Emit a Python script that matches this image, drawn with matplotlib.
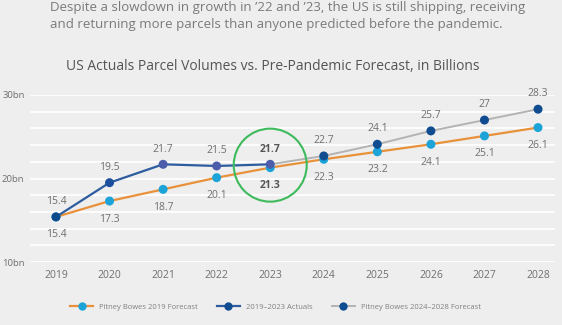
import numpy as np
import matplotlib.pyplot as plt
from matplotlib.patches import Ellipse
from matplotlib.lines import Line2D

plt.rcParams['font.family'] = ['Open Sans', 'DejaVu Sans']

# parcel volumes, billions
years = [2019, 2020, 2021, 2022, 2023, 2024, 2025, 2026, 2027, 2028]
forecast_2019 = [15.4, 17.3, 18.7, 20.1, 21.3, 22.3, 23.2, 24.1, 25.1, 26.1]
actual_years = [2019, 2020, 2021, 2022, 2023]
actuals = [15.4, 19.5, 21.7, 21.5, 21.7]
new_years = [2023, 2024, 2025, 2026, 2027, 2028]
forecast_2024 = [21.7, 22.7, 24.1, 25.7, 27, 28.3]

bg = '#eeeeee'
orange = '#e8913a'
light_blue = '#1ca4d8'
navy = '#0f4c90'
actual_line = '#2d5d9e'
actual_dots = ['#0d4a8c', '#1b4f9d', '#4c5dab', '#4c5dab', '#4c5dab']
gray = '#b3b3b3'
txt = '#6f6f6f'

fig = plt.figure(figsize=(5.62, 3.25), dpi=100, facecolor=bg)
ax = fig.add_axes([30/562, 63/325, 525/562, 167/325], facecolor=bg)

ax.plot(years, forecast_2019, color=orange, lw=1.6, zorder=2)
ax.plot(new_years, forecast_2024, color=gray, lw=1.4, zorder=2)
ax.plot(actual_years, actuals, color=actual_line, lw=1.6, zorder=3)
ax.scatter(years, forecast_2019, s=42, color=light_blue, zorder=4, edgecolors='none')
ax.scatter(new_years[1:], forecast_2024[1:], s=42, color=navy, zorder=4, edgecolors='none')
ax.scatter(actual_years, actuals, s=42, color=actual_dots, zorder=5, edgecolors='none')

fs = 7.5
for x, y in zip(years, forecast_2019):
    bold = x == 2023
    ax.annotate(f'{y:g}', (x, y), xytext=(0, -13), textcoords='offset points',
                ha='center', va='center', fontsize=fs,
                color='#555555' if bold else txt, fontweight='bold' if bold else 'normal')
for x, y in zip(actual_years, actuals):
    bold = x == 2023
    ax.annotate(f'{y:g}', (x, y), xytext=(0, 11), textcoords='offset points',
                ha='center', va='center', fontsize=fs,
                color='#555555' if bold else txt, fontweight='bold' if bold else 'normal')
for x, y in zip(new_years[1:], forecast_2024[1:]):
    ax.annotate(f'{y:g}', (x, y), xytext=(0, 11), textcoords='offset points',
                ha='center', va='center', fontsize=fs, color=txt)

# highlight ring around 2023
ax.add_patch(Ellipse((2023, 21.6), 2 * 36.5 / 53.56, 2 * 36.5 / 8.35,
                     fill=False, edgecolor='#3dbb5c', lw=1.5, zorder=6))

ax.set_xlim(2018.515, 2028.317)
ax.set_ylim(10, 30)
ax.set_yticks([10, 20, 30])
ax.set_yticklabels(['10bn', '20bn', '30bn'])
ax.set_yticks(np.arange(10, 31, 2), minor=True)
ax.set_xticks(years)
ax.grid(True, which='both', axis='y', color='white', lw=1.2, zorder=0)
ax.set_axisbelow(True)
ax.tick_params(axis='both', which='both', length=0, colors=txt, labelsize=fs)
ax.tick_params(axis='y', labelsize=6.8, pad=4)
ax.tick_params(axis='x', pad=6)
for s in ax.spines.values():
    s.set_visible(False)

fig.text(50/562, 0.998, "Despite a slowdown in growth in \u201922 and \u201923, the US is still shipping, receiving\n"
         "and returning more parcels than anyone predicted before the pandemic.",
         ha='left', va='top', fontsize=9.5, color='#7a7a7a', linespacing=1.4)
fig.text(273/562, 0.795, 'US Actuals Parcel Volumes vs. Pre-Pandemic Forecast, in Billions',
         ha='center', va='center', fontsize=10, color='#555555')

handles = [
    Line2D([], [], color=orange, lw=1.6, marker='o', markersize=6,
           markerfacecolor=light_blue, markeredgecolor='none'),
    Line2D([], [], color=actual_line, lw=1.6, marker='o', markersize=6,
           markerfacecolor=navy, markeredgecolor='none'),
    Line2D([], [], color=gray, lw=1.4, marker='o', markersize=6,
           markerfacecolor=navy, markeredgecolor='none'),
]
labels = ['Pitney Bowes 2019 Forecast', '2019\u20132023 Actuals', 'Pitney Bowes 2024\u20132028 Forecast']
fig.legend(handles, labels, loc='center', bbox_to_anchor=(0.49, 0.055), ncol=3,
           frameon=False, fontsize=5.5, labelcolor='#808080', handlelength=3,
           columnspacing=2.5, handletextpad=0.8)

fig.savefig('out.png', dpi=100, facecolor=bg)
